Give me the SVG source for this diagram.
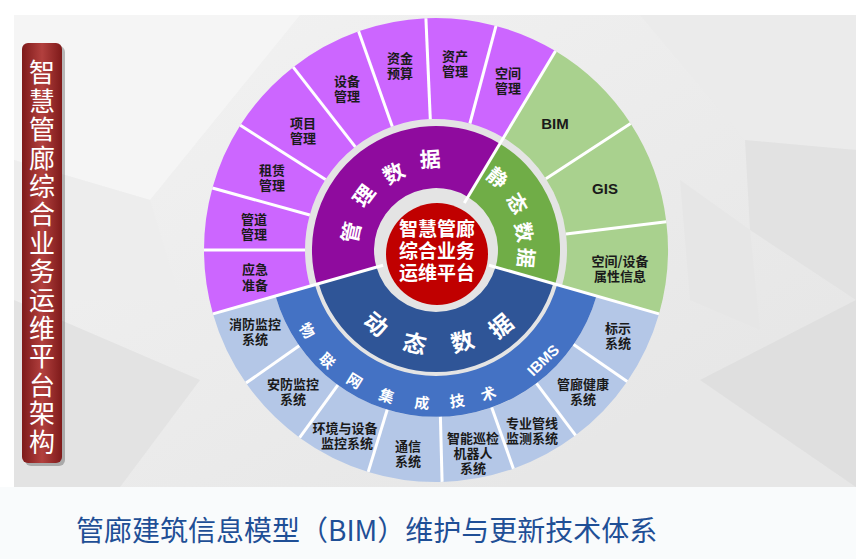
<svg xmlns="http://www.w3.org/2000/svg" width="856" height="559" viewBox="0 0 856 559">
<style>
.lbl{font-family:"Noto Sans CJK SC","Noto Sans",sans-serif;font-size:13px;font-weight:700;fill:#1a1a1a;text-anchor:middle;dominant-baseline:central}
.en{font-family:"Liberation Sans","Noto Sans",sans-serif;font-size:15px;font-weight:700;fill:#1a1a1a;text-anchor:middle;dominant-baseline:central}
.arc{font-family:"Noto Sans CJK SC","Noto Sans",sans-serif;font-weight:700;fill:#fff;text-anchor:middle;dominant-baseline:central}
.sep{stroke:#fff;stroke-width:3;fill:none}
.ttl{font-family:"Noto Sans CJK SC","Noto Sans",sans-serif;font-size:26px;fill:#fff}
</style>
<defs>
<linearGradient id="boxg" x1="0" y1="0" x2="1" y2="0">
<stop offset="0" stop-color="#7e1a1a"/>
<stop offset="0.5" stop-color="#b2403e"/>
<stop offset="1" stop-color="#7e1a1a"/>
</linearGradient>
<linearGradient id="bgg" x1="0" y1="0" x2="1" y2="1">
<stop offset="0" stop-color="#f3f3f3"/>
<stop offset="1" stop-color="#e4e4e4"/>
</linearGradient>
</defs>
<rect x="0" y="0" width="856" height="559" fill="#ffffff"/>
<g id="background">
<rect x="14" y="15" width="842" height="472" fill="url(#bgg)"/>
<polygon points="14,15 300,15 150,200 14,160" fill="#f5f5f5"/>
<polygon points="640,15 856,15 856,150 745,140" fill="#ebebeb"/>
<polygon points="745,140 856,150 856,300 750,230" fill="#e2e2e2"/>
<polygon points="680,180 750,230 760,330 690,300" fill="#e6e6e6"/>
<polygon points="14,300 200,380 120,487 14,487" fill="#e3e3e3"/>
<polygon points="500,487 700,380 856,487" fill="#e7e7e7"/>
<polygon points="700,380 856,300 856,487" fill="#dfdfdf"/>
<polygon points="14,160 150,200 180,300 14,300" fill="#ededed"/>
<rect x="0" y="487" width="856" height="72" fill="#f9fbfc"/>
</g>
<g id="title-box">
<rect x="25" y="46" width="40" height="420" rx="6" fill="#000" opacity="0.25"/>
<rect x="22" y="43" width="40" height="420" rx="6" fill="url(#boxg)"/>
<text class="ttl" x="42" y="59.5" writing-mode="tb" letter-spacing="2.4">智慧管廊综合业务运维平台架构</text>
</g>
<circle cx="436" cy="250" r="131" fill="#e4e4e4"/>
<g id="seg-yingji">
<path d="M213.0,313.9 A232,232 0 0 1 204,250 L305,250 A131,131 0 0 0 310.1,286.1 Z" fill="#cc66ff"/>
<text class="lbl"><tspan x="255" y="268">应急</tspan><tspan x="255" y="284">准备</tspan></text>
</g>
<g id="seg-guandao">
<path d="M204,250 A232,232 0 0 1 212.4,188.0 L309.8,215.0 A131,131 0 0 0 305,250 Z" fill="#cc66ff"/>
<text class="lbl"><tspan x="254" y="218">管道</tspan><tspan x="254" y="233">管理</tspan></text>
</g>
<g id="seg-zulin">
<path d="M212.4,188.0 A232,232 0 0 1 240.3,125.3 L325.5,179.6 A131,131 0 0 0 309.8,215.0 Z" fill="#cc66ff"/>
<text class="lbl"><tspan x="272" y="169">租赁</tspan><tspan x="272" y="184">管理</tspan></text>
</g>
<g id="seg-xiangmu">
<path d="M240.3,125.3 A232,232 0 0 1 293.2,67.2 L355.3,146.8 A131,131 0 0 0 325.5,179.6 Z" fill="#cc66ff"/>
<text class="lbl"><tspan x="303" y="122">项目</tspan><tspan x="303" y="137">管理</tspan></text>
</g>
<g id="seg-shebei">
<path d="M293.2,67.2 A232,232 0 0 1 358.6,31.3 L392.3,126.5 A131,131 0 0 0 355.3,146.8 Z" fill="#cc66ff"/>
<text class="lbl"><tspan x="347" y="80">设备</tspan><tspan x="347" y="95">管理</tspan></text>
</g>
<g id="seg-zijin">
<path d="M358.6,31.3 A232,232 0 0 1 425.9,18.2 L430.3,119.1 A131,131 0 0 0 392.3,126.5 Z" fill="#cc66ff"/>
<text class="lbl"><tspan x="400" y="57">资金</tspan><tspan x="400" y="72">预算</tspan></text>
</g>
<g id="seg-zichan">
<path d="M425.9,18.2 A232,232 0 0 1 496.0,25.9 L469.9,123.5 A131,131 0 0 0 430.3,119.1 Z" fill="#cc66ff"/>
<text class="lbl"><tspan x="455" y="55">资产</tspan><tspan x="455" y="70">管理</tspan></text>
</g>
<g id="seg-kongjian">
<path d="M496.0,25.9 A232,232 0 0 1 555.5,51.1 L503.5,137.7 A131,131 0 0 0 469.9,123.5 Z" fill="#cc66ff"/>
<text class="lbl"><tspan x="508" y="72">空间</tspan><tspan x="508" y="87">管理</tspan></text>
</g>
<g id="seg-bim">
<path d="M555.5,51.1 A232,232 0 0 1 630.6,123.6 L545.9,178.7 A131,131 0 0 0 503.5,137.7 Z" fill="#a9d18e"/>
<text class="en" x="555" y="123">BIM</text>
</g>
<g id="seg-gis">
<path d="M630.6,123.6 A232,232 0 0 1 666.3,221.7 L566.0,234.0 A131,131 0 0 0 545.9,178.7 Z" fill="#a9d18e"/>
<text class="en" x="605" y="188">GIS</text>
</g>
<g id="seg-shuxing">
<path d="M666.3,221.7 A232,232 0 0 1 659.0,313.9 L561.9,286.1 A131,131 0 0 0 566.0,234.0 Z" fill="#a9d18e"/>
<text class="lbl"><tspan x="620" y="260">空间/设备</tspan><tspan x="620" y="275">属性信息</tspan></text>
</g>
<g id="seg-biaoshi">
<path d="M659.0,313.9 A232,232 0 0 1 627.2,381.4 L573.6,344.6 A167,167 0 0 0 596.5,296.0 Z" fill="#b4c7e7"/>
<text class="lbl"><tspan x="618" y="327">标示</tspan><tspan x="618" y="342">系统</tspan></text>
</g>
<g id="seg-jiankang">
<path d="M627.2,381.4 A232,232 0 0 1 575.6,435.3 L536.5,383.4 A167,167 0 0 0 573.6,344.6 Z" fill="#b4c7e7"/>
<text class="lbl"><tspan x="583" y="383">管廊健康</tspan><tspan x="583" y="398">系统</tspan></text>
</g>
<g id="seg-zhuanye">
<path d="M575.6,435.3 A232,232 0 0 1 513.4,468.7 L491.7,407.4 A167,167 0 0 0 536.5,383.4 Z" fill="#b4c7e7"/>
<text class="lbl"><tspan x="532" y="422">专业管线</tspan><tspan x="532" y="437">监测系统</tspan></text>
</g>
<g id="seg-xunjian">
<path d="M513.4,468.7 A232,232 0 0 1 442.1,481.9 L440.4,416.9 A167,167 0 0 0 491.7,407.4 Z" fill="#b4c7e7"/>
<text class="lbl"><tspan x="473" y="437">智能巡检</tspan><tspan x="473" y="452">机器人</tspan><tspan x="473" y="467">系统</tspan></text>
</g>
<g id="seg-tongxin">
<path d="M442.1,481.9 A232,232 0 0 1 368.2,471.9 L387.2,409.7 A167,167 0 0 0 440.4,416.9 Z" fill="#b4c7e7"/>
<text class="lbl"><tspan x="408" y="445">通信</tspan><tspan x="408" y="460">系统</tspan></text>
</g>
<g id="seg-huanjing">
<path d="M368.2,471.9 A232,232 0 0 1 299.6,437.7 L337.8,385.1 A167,167 0 0 0 387.2,409.7 Z" fill="#b4c7e7"/>
<text class="lbl"><tspan x="345" y="427">环境与设备</tspan><tspan x="347" y="442">监控系统</tspan></text>
</g>
<g id="seg-anfang">
<path d="M299.6,437.7 A232,232 0 0 1 246.0,383.1 L299.2,345.8 A167,167 0 0 0 337.8,385.1 Z" fill="#b4c7e7"/>
<text class="lbl"><tspan x="293" y="383">安防监控</tspan><tspan x="293" y="398">系统</tspan></text>
</g>
<g id="seg-xiaofang">
<path d="M246.0,383.1 A232,232 0 0 1 213.0,313.9 L275.5,296.0 A167,167 0 0 0 299.2,345.8 Z" fill="#b4c7e7"/>
<text class="lbl"><tspan x="255" y="323">消防监控</tspan><tspan x="255" y="338">系统</tspan></text>
</g>
<g id="band-iot">
<path d="M596.5,296.0 A167,167 0 0 1 275.5,296.0 L314.9,284.7 A126,126 0 0 0 557.1,284.7 Z" fill="#4472c4"/>
<g class="arc" font-size="15">
<text x="308" y="330" transform="rotate(58 308 330)">物</text>
<text x="328" y="360" transform="rotate(44 328 360)">联</text>
<text x="355" y="380" transform="rotate(32 355 380)">网</text>
<text x="387" y="395" transform="rotate(19 387 395)">集</text>
<text x="422" y="402" transform="rotate(5 422 402)">成</text>
<text x="457" y="400" transform="rotate(-8 457 400)">技</text>
<text x="488" y="393" transform="rotate(-20 488 393)">术</text>
<text x="543" y="360" transform="rotate(-44 543 360)" font-family="Liberation Sans, sans-serif">IBMS</text>
</g>
</g>
<g id="ring-guanli">
<path d="M316.8,284.2 A124,124 0 0 1 499.9,143.7 L467.9,196.9 A62,62 0 0 0 376.4,267.1 Z" fill="#8f0b9e"/>
<g class="arc" font-size="21">
<text x="350" y="232" transform="rotate(-78 350 232)">管</text>
<text x="363" y="195" transform="rotate(-53 363 195)">理</text>
<text x="393" y="172" transform="rotate(-29 393 172)">数</text>
<text x="430" y="158" transform="rotate(-4 430 158)">据</text>
</g>
</g>
<g id="ring-jingtai">
<path d="M499.9,143.7 A124,124 0 0 1 555.2,284.2 L495.6,267.1 A62,62 0 0 0 467.9,196.9 Z" fill="#70ad47"/>
<g class="arc" font-size="20">
<text x="498" y="177" transform="rotate(40 498 177)">静</text>
<text x="518" y="203" transform="rotate(60 518 203)">态</text>
<text x="525" y="232" transform="rotate(79 525 232)">数</text>
<text x="527" y="258" transform="rotate(95 527 258)">据</text>
</g>
</g>
<g id="ring-dongtai">
<path d="M553.3,283.6 A122,122 0 0 1 318.7,283.6 L376.4,267.1 A62,62 0 0 0 495.6,267.1 Z" fill="#2f5597"/>
<g class="arc" font-size="23">
<text x="377" y="323" transform="rotate(39 377 323)">动</text>
<text x="415" y="342" transform="rotate(13 415 342)">态</text>
<text x="462" y="340" transform="rotate(-16 462 340)">数</text>
<text x="500" y="325" transform="rotate(-40 500 325)">据</text>
</g>
</g>
<g id="separators">
<line class="sep" x1="305" y1="250" x2="204" y2="250"/>
<line class="sep" x1="309.8" y1="215.0" x2="212.4" y2="188.0"/>
<line class="sep" x1="325.5" y1="179.6" x2="240.3" y2="125.3"/>
<line class="sep" x1="355.3" y1="146.8" x2="293.2" y2="67.2"/>
<line class="sep" x1="392.3" y1="126.5" x2="358.6" y2="31.3"/>
<line class="sep" x1="430.3" y1="119.1" x2="425.9" y2="18.2"/>
<line class="sep" x1="469.9" y1="123.5" x2="496.0" y2="25.9"/>
<line class="sep" x1="545.9" y1="178.7" x2="630.6" y2="123.6"/>
<line class="sep" x1="566.0" y1="234.0" x2="666.3" y2="221.7"/>
<line class="sep" x1="573.6" y1="344.6" x2="627.2" y2="381.4"/>
<line class="sep" x1="536.5" y1="383.4" x2="575.6" y2="435.3"/>
<line class="sep" x1="491.7" y1="407.4" x2="513.4" y2="468.7"/>
<line class="sep" x1="440.4" y1="416.9" x2="442.1" y2="481.9"/>
<line class="sep" x1="387.2" y1="409.7" x2="368.2" y2="471.9"/>
<line class="sep" x1="337.8" y1="385.1" x2="299.6" y2="437.7"/>
<line class="sep" x1="299.2" y1="345.8" x2="246.0" y2="383.1"/>
<line class="sep" x1="383.1" y1="265.2" x2="213.0" y2="313.9"/>
<line class="sep" x1="464.3" y1="202.9" x2="555.5" y2="51.1"/>
<line class="sep" x1="488.9" y1="265.2" x2="659.0" y2="313.9"/>
</g>
<g id="center">
<circle cx="437" cy="254" r="51" fill="#c00000"/>
<text class="arc" font-size="19"><tspan x="437" y="227">智慧管廊</tspan><tspan x="437" y="249">综合业务</tspan><tspan x="437" y="271">运维平台</tspan></text>
</g>
<text id="bottom-title" x="76" y="529" font-family="Noto Sans CJK SC, Noto Sans, sans-serif" font-size="28" fill="#1f4f96" dominant-baseline="central">管廊建筑信息模型（BIM）维护与更新技术体系</text>
</svg>
